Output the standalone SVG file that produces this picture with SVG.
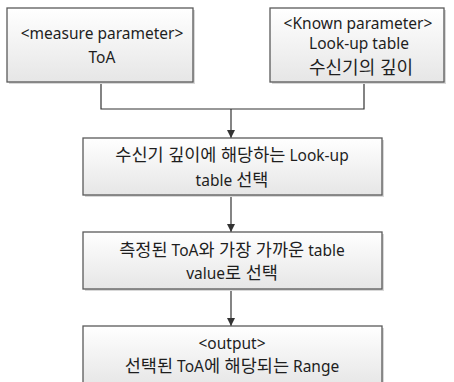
<svg xmlns="http://www.w3.org/2000/svg" width="454" height="382" viewBox="0 0 454 382">
<defs>
<linearGradient id="g" x1="0" y1="0" x2="0" y2="1">
<stop offset="0" stop-color="#ffffff"/>
<stop offset="1" stop-color="#e6e6e6"/>
</linearGradient>
<marker id="arr" viewBox="0 0 10 10" refX="10" refY="5" markerWidth="8" markerHeight="8" markerUnits="userSpaceOnUse" orient="auto">
<path d="M0,0 L10,5 L0,10 z" fill="#333"/>
</marker>
</defs>
<style>
.box{fill:url(#g);stroke:#5a5a5a;stroke-width:1.3}
.sh{fill:#d8d8d8}
.t{font-family:"Noto Sans","Noto Sans CJK KR",sans-serif;font-size:15.5px;fill:#1e1e1e;text-anchor:middle}
.k{font-size:17.5px}
.c{fill:none;stroke:#333;stroke-width:1.2}
</style>
<rect width="454" height="382" fill="#fff"/>
<g id="connectors">
<path class="c" d="M101,82 V109 H364 V82"/>
<path class="c" d="M231,109 V138" marker-end="url(#arr)"/>
<path class="c" d="M231,195 V232" marker-end="url(#arr)"/>
<path class="c" d="M231,289 V326" marker-end="url(#arr)"/>
</g>
<g id="n1">
<rect class="sh" x="9" y="10" width="186" height="74"/>
<rect class="box" x="7" y="8" width="186" height="74"/>
<text class="t" x="102" y="38.5">&lt;measure parameter&gt;</text>
<text class="t" x="102" y="62.5">ToA</text>
</g>
<g id="n2">
<rect class="sh" x="272" y="10" width="174" height="74"/>
<rect class="box" x="270" y="8" width="174" height="74"/>
<text class="t" x="358" y="28.5">&lt;Known parameter&gt;</text>
<text class="t" x="359" y="48.5">Look-up table</text>
<text class="t" x="361" y="73.5" style="font-size:18px">수신기의 깊이</text>
</g>
<g id="n3">
<rect class="sh" x="85" y="140" width="299" height="57"/>
<rect class="box" x="83" y="138" width="299" height="57"/>
<text class="t" x="232" y="160.5"><tspan class="k">수신기 깊이에 해당하는</tspan> Look-up</text>
<text class="t" x="232" y="185.5">table <tspan class="k">선택</tspan></text>
</g>
<g id="n4">
<rect class="sh" x="85" y="234" width="299" height="57"/>
<rect class="box" x="83" y="232" width="299" height="57"/>
<text class="t" x="232" y="255.5"><tspan class="k">측정된</tspan> ToA<tspan class="k">와 가장 가까운</tspan> table</text>
<text class="t" x="232" y="278.5">value<tspan class="k">로 선택</tspan></text>
</g>
<g id="n5">
<rect class="sh" x="85" y="328" width="299" height="60"/>
<rect class="box" x="83" y="326" width="299" height="60"/>
<text class="t" x="232" y="348.5">&lt;output&gt;</text>
<text class="t" x="232" y="371.5"><tspan class="k">선택된</tspan> ToA<tspan class="k">에 해당되는</tspan> Range</text>
</g>
</svg>
